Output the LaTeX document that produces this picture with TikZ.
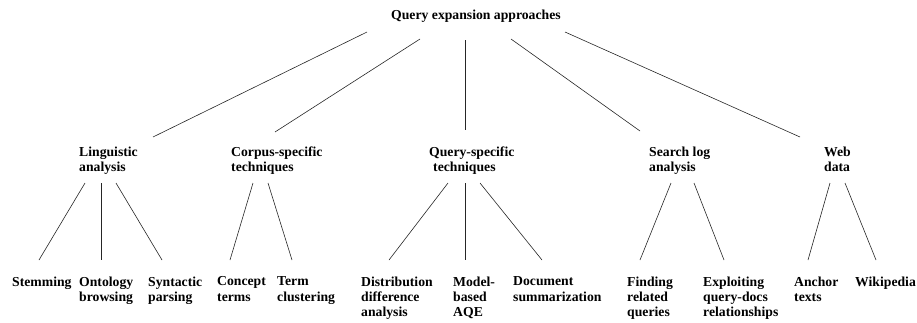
\documentclass[tikz,border=0pt]{standalone}
\usepackage{fontspec}
\setmainfont{Liberation Serif}
\usepackage{tikz}
\usetikzlibrary{calc}

\tikzset{
	lbl/.style={anchor=north west,inner sep=0pt,align=left,font=\fontsize{13.7}{15.2}\selectfont\bfseries},
	branch/.style={line width=0.6pt,black!85}
}

\begin{document}
\begin{tikzpicture}[x=1pt,y=-1pt]
		\useasboundingbox (0,0) rectangle (917,322);
		
		% root
		\node[lbl] (qea) at (391,9.7) {Query expansion approaches};
		
		% second level
		\node[lbl] (ling) at (79,146.7) {Linguistic\\analysis};
		\node[lbl] (corp) at (231,146.7) {Corpus-specific\\techniques};
		\node[lbl] (qspec) at (429,146.7) {Query-specific\\\hspace*{4pt}techniques};
		\node[lbl] (srch) at (649,146.7) {Search log\\analysis};
		\node[lbl] (web) at (824,146.7) {Web\\data};
		
		% leaves
		\node[lbl] (stem) at (12,276.7) {Stemming};
		\node[lbl] (onto) at (79,276.7) {Ontology\\browsing};
		\node[lbl] (synt) at (148,276.7) {Syntactic\\parsing};
		\node[lbl] (conc) at (217,276.7) {Concept\\terms};
		\node[lbl] (term) at (277,276.7) {Term\\clustering};
		\node[lbl] (dist) at (361,276.7) {Distribution\\difference\\analysis};
		\node[lbl] (model) at (453,276.7) {Model-\\based\\AQE};
		\node[lbl] (doc) at (513,276.7) {Document\\summarization};
		\node[lbl] (find) at (627,276.7) {Finding\\related\\queries};
		\node[lbl] (expl) at (703,276.7) {Exploiting\\query-docs\\relationships};
		\node[lbl] (anch) at (794,276.7) {Anchor\\texts};
		\node[lbl] (wiki) at (855,276.7) {Wikipedia};
		
		% root to second level
		\draw[branch] ($(qea.north west)+(-24,22.3)$) -- ($(ling.north west)+(74,-9.7)$);
		\draw[branch] ($(qea.north west)+(29,29.3)$) -- ($(corp.north west)+(44,-14.7)$);
		\draw[branch] ($(qea.north west)+(74,30.3)$) -- ($(qspec.north west)+(36,-16.7)$);
		\draw[branch] ($(qea.north west)+(120,29.3)$) -- ($(srch.north west)+(-9,-15.7)$);
		\draw[branch] ($(qea.north west)+(174,22.3)$) -- ($(web.north west)+(-24,-9.7)$);
		
		% second level to leaves
		\draw[branch] ($(ling.north west)+(6,36.3)$) -- ($(stem.north west)+(27,-16.7)$);
		\draw[branch] ($(ling.north west)+(22,36.3)$) -- ($(onto.north west)+(22,-16.7)$);
		\draw[branch] ($(ling.north west)+(37,36.3)$) -- ($(synt.north west)+(14,-16.7)$);
		
		\draw[branch] ($(corp.north west)+(22,36.3)$) -- ($(conc.north west)+(13,-16.7)$);
		\draw[branch] ($(corp.north west)+(37,36.3)$) -- ($(term.north west)+(15,-16.7)$);
		
		\draw[branch] ($(qspec.north west)+(19,36.3)$) -- ($(dist.north west)+(28,-16.7)$);
		\draw[branch] ($(qspec.north west)+(36,36.3)$) -- ($(model.north west)+(12,-16.7)$);
		\draw[branch] ($(qspec.north west)+(51,36.3)$) -- ($(doc.north west)+(29,-16.7)$);
		
		\draw[branch] ($(srch.north west)+(22,36.3)$) -- ($(find.north west)+(13,-16.7)$);
		\draw[branch] ($(srch.north west)+(45,36.3)$) -- ($(expl.north west)+(21,-16.7)$);
		
		\draw[branch] ($(web.north west)+(6,36.3)$) -- ($(anch.north west)+(14,-16.7)$);
		\draw[branch] ($(web.north west)+(21,36.3)$) -- ($(wiki.north west)+(21,-16.7)$);
\end{tikzpicture}
\end{document}
